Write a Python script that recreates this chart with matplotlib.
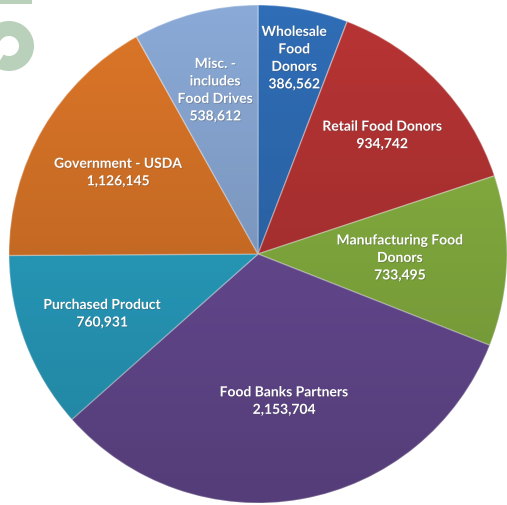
import numpy as np
import matplotlib
matplotlib.use('Agg')
import matplotlib.pyplot as plt
from matplotlib.patches import Wedge, Rectangle, Circle
import matplotlib.patheffects as pe

# data, clockwise from 12 o'clock
labels = ['Wholesale\nFood\nDonors', 'Retail Food Donors', 'Manufacturing Food\nDonors',
          'Food Banks Partners', 'Purchased Product', 'Government - USDA',
          'Misc. -\nincludes\nFood Drives']
values = [386562, 934742, 733495, 2153704, 760931, 1126145, 538612]
colors = ['#2f6db6', '#b83434', '#8ab542', '#6c4e9a', '#2aa6c9', '#dc7628', '#8aa9d6']
label_dist = [0.80, 0.69, 0.57, 0.60, 0.67, 0.65, 0.68]

W, H = 507, 506
cx, cy, R = 258, H - 255, 249

fig = plt.figure(figsize=(W / 100, H / 100), dpi=100)
ax = fig.add_axes([0, 0, 1, 1])

# faded logo in the corner
ax.add_patch(Rectangle((0, H - 5), 32, 5, color='#b9d0bb', lw=0))
ax.add_patch(Wedge((9, H - 47), 25, -122, 150, width=15, color='#b9d0bb', lw=0))

wedges, _ = ax.pie(values, colors=colors, startangle=90, counterclock=False,
                   center=(cx, cy), radius=R, frame=True,
                   wedgeprops=dict(edgecolor=(1, 1, 1, 0.35), linewidth=1.0))
ax.set_xlim(0, W)
ax.set_ylim(0, H)
ax.axis('off')

# soft shading, light on top and darker toward the bottom
grad = np.linspace(0, 1, 256).reshape(-1, 1)
shade = np.zeros((256, 1, 4))
shade[..., 3] = 0.22 * grad
img = ax.imshow(shade, extent=(cx - R, cx + R, cy - R, cy + R), origin='upper',
                aspect='auto', zorder=3)
img.set_clip_path(Circle((cx, cy), R, transform=ax.transData))

total = sum(values)
start = 90.0
for lab, v, d in zip(labels, values, label_dist):
    sweep = 360.0 * v / total
    mid = np.deg2rad(start - sweep / 2)
    start -= sweep
    tx = cx + d * R * np.cos(mid)
    ty = cy + d * R * np.sin(mid)
    ax.text(tx, ty, lab + '\n' + f'{v:,}', ha='center', va='center',
            color='white', fontsize=10, fontweight='bold', family='Lato',
            linespacing=1.55, zorder=5,
            path_effects=[pe.withSimplePatchShadow(offset=(0.6, -0.6), alpha=0.35)])

fig.savefig('out.png', dpi=100)
